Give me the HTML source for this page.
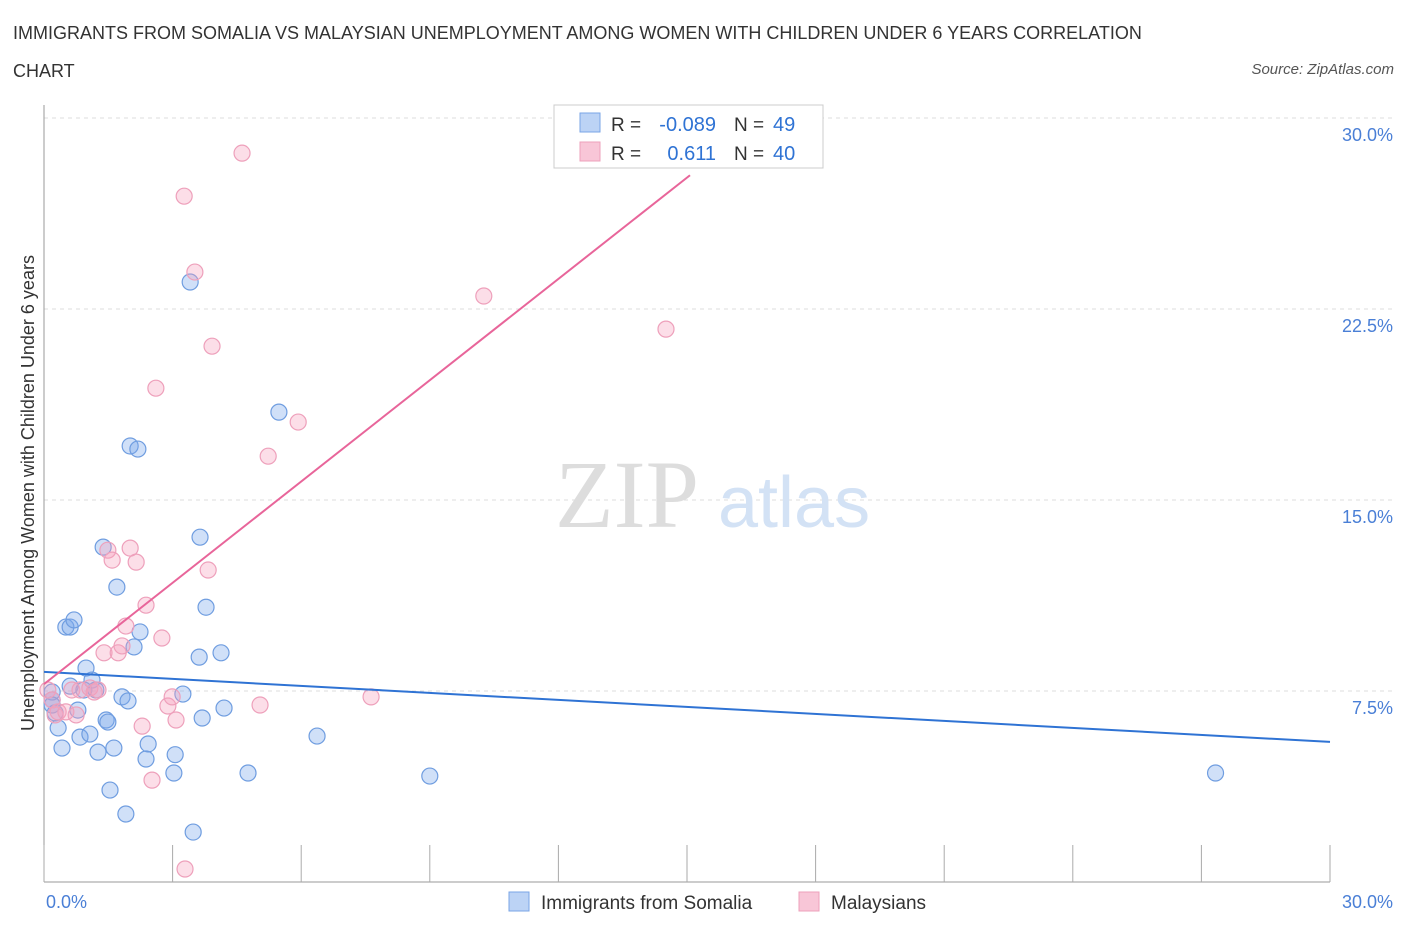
<!DOCTYPE html>
<html><head><meta charset="utf-8"><style>
body{margin:0;background:#fff;font-family:"Liberation Sans",sans-serif;}
#c{position:absolute;left:0;top:0;}
</style></head><body>
<div style="position:absolute;left:13px;top:14px;font-size:18px;color:#333;line-height:38px;width:1180px">IMMIGRANTS FROM SOMALIA VS MALAYSIAN UNEMPLOYMENT AMONG WOMEN WITH CHILDREN UNDER 6 YEARS CORRELATION CHART</div>
<div style="position:absolute;right:12px;top:61px;font-size:15px;font-style:italic;color:#555">Source: ZipAtlas.com</div>
<svg id="c" width="1406" height="930"></svg>
<script>
const xTicks=[0,3,6,9,12,15,18,21,24,27,30];
const yTicks=[7.5,15,22.5,30];
const blueX=[0.19,0.26,0.33,0.19,0.42,0.51,0.61,0.70,0.61,0.79,0.84,0.93,0.98,1.07,1.12,1.21,1.26,1.38,1.45,1.54,1.63,1.70,1.82,1.91,1.96,2.01,2.19,2.24,2.10,2.43,2.38,3.06,3.03,3.24,3.41,3.48,3.64,3.62,3.69,3.78,4.13,4.20,4.76,5.48,6.37,9.00,27.33,0.19,1.49];
const blueY=[7.46,6.64,6.05,7.15,5.26,10.01,10.01,10.29,7.69,6.75,5.69,7.54,8.40,5.81,7.93,7.54,5.10,13.15,6.36,3.61,5.26,11.58,7.27,2.67,7.11,17.12,17.00,9.82,9.23,5.42,4.83,5.00,4.28,7.38,23.56,1.96,13.54,8.83,6.44,10.79,9.00,6.83,4.28,18.45,5.73,4.16,4.28,6.95,6.28];
const pinkX=[0.09,0.19,0.26,0.33,0.51,0.65,0.84,1.07,1.17,1.26,1.40,1.49,1.59,1.73,1.82,1.91,2.01,2.15,2.29,2.38,2.52,2.61,2.75,2.89,2.99,3.08,3.27,3.29,3.52,3.83,3.92,4.62,5.04,5.23,5.93,7.63,10.26,14.51,14.46,0.75];
const pinkY=[7.54,7.15,6.56,6.68,6.68,7.54,7.54,7.62,7.46,7.54,9.00,13.03,12.64,9.00,9.27,10.05,13.11,12.56,6.12,10.87,4.00,19.39,9.58,6.91,7.27,6.36,26.93,0.51,23.95,12.25,21.04,28.62,6.95,16.72,18.06,7.27,23.01,21.71,29.47,6.56];
const blueTrend=[8.25,5.5];
const pinkTrend=[7.77,1.326,15.07];
const X0=44,X1=1330,Y0=882,Y30=118;
const sx=v=>X0+(v/30)*(X1-X0);
const sy=v=>Y0-(v/30)*(Y0-Y30);
const svg=document.getElementById('c');
const NS='http://www.w3.org/2000/svg';
function mk(t,a,p){const e=document.createElementNS(NS,t);for(const k in a)e.setAttribute(k,a[k]);(p||svg).appendChild(e);return e;}
yTicks.forEach(v=>{
 const g=mk('line',{x1:X0,x2:1393,y1:sy(v),y2:sy(v),stroke:'#ddd','stroke-dasharray':'4,4'});
 
 
 const t=mk('text',{x:1393,y:sy(v)+23,'text-anchor':'end','font-size':18,fill:'#4a7fd6','font-family':'Liberation Sans'});
 t.textContent=v.toFixed(1)+'%';
 
 
});
const ax=mk('line',{x1:X0,x2:X0,y1:105,y2:Y0,stroke:'#999'});


const bx=mk('line',{x1:X0,x2:X1,y1:Y0,y2:Y0,stroke:'#999'});


xTicks.forEach(v=>{
 const l=mk('line',{x1:sx(v),x2:sx(v),y1:845,y2:Y0,stroke:'#aaa'});
 
 
});
[[0,'start',46],[30,'end',1393]].forEach(([v,a,x])=>{
 const t=mk('text',{x:x,y:908,'text-anchor':a,'font-size':18,fill:'#4a7fd6','font-family':'Liberation Sans'});
 t.textContent=v.toFixed(1)+'%';
 
 
});
const yt=mk('text',{transform:'translate(34,493) rotate(-90)','text-anchor':'middle','font-size':18,fill:'#333','font-family':'Liberation Sans'});
yt.textContent='Unemployment Among Women with Children Under 6 years';


const w1=mk('text',{x:555,y:527,'font-size':96,fill:'#ddd','font-family':'Liberation Serif'});w1.textContent='ZIP';


const w2=mk('text',{x:718,y:527,'font-size':72,fill:'#d3e2f5','font-family':'Liberation Sans'});w2.textContent='atlas';


blueX.forEach((v,i)=>{
 const c=mk('circle',{cx:sx(v),cy:sy(blueY[i]),r:8,fill:'rgba(120,165,235,0.35)',stroke:'#6f9de0','stroke-width':1.2});
 
 
});
pinkX.forEach((v,i)=>{
 const c=mk('circle',{cx:sx(v),cy:sy(pinkY[i]),r:8,fill:'rgba(245,160,190,0.35)',stroke:'#eea0bb','stroke-width':1.2});
 
 
});
const bl=mk('line',{x1:sx(0),y1:sy(blueTrend[0]),x2:sx(30),y2:sy(blueTrend[1]),stroke:'#2f73d4','stroke-width':2});


const pl=mk('line',{x1:sx(0),y1:sy(pinkTrend[0]),x2:sx(pinkTrend[2]),y2:sy(pinkTrend[0]+pinkTrend[1]*pinkTrend[2]),stroke:'#e8659a','stroke-width':2});


const lg=mk('g',{});


mk('rect',{x:554,y:105,width:269,height:63,fill:'#fff',stroke:'#ccc'},lg);
mk('rect',{x:580,y:113,width:20,height:19,fill:'#bcd3f5',stroke:'#7aa5e6'},lg);
mk('rect',{x:580,y:142,width:20,height:19,fill:'#f8c6d7',stroke:'#eea0bb'},lg);
[[131,'-0.089','49'],[160,'0.611','40']].forEach(([y,r,n])=>{
 const a=mk('text',{x:611,y:y,'font-size':19,fill:'#333','font-family':'Liberation Sans'},lg);a.textContent='R =';
 const b=mk('text',{x:716,y:y,'text-anchor':'end','font-size':20,fill:'#2f73d4','font-family':'Liberation Sans'},lg);b.textContent=r;
 const c=mk('text',{x:734,y:y,'font-size':19,fill:'#333','font-family':'Liberation Sans'},lg);c.textContent='N =';
 const d=mk('text',{x:773,y:y,'font-size':20,fill:'#2f73d4','font-family':'Liberation Sans'},lg);d.textContent=n;
});
[[509,'#bcd3f5','#7aa5e6','Immigrants from Somalia',541,'legend-somalia'],[799,'#f8c6d7','#eea0bb','Malaysians',831,'legend-malaysians']].forEach(([x,f,s,t,tx,n])=>{
 const g=mk('g',{});
 
 
 mk('rect',{x:x,y:892,width:20,height:19,fill:f,stroke:s},g);
 const e=mk('text',{x:tx,y:909,'font-size':19,fill:'#333','font-family':'Liberation Sans'},g);e.textContent=t;
});
</script>
</body></html>
